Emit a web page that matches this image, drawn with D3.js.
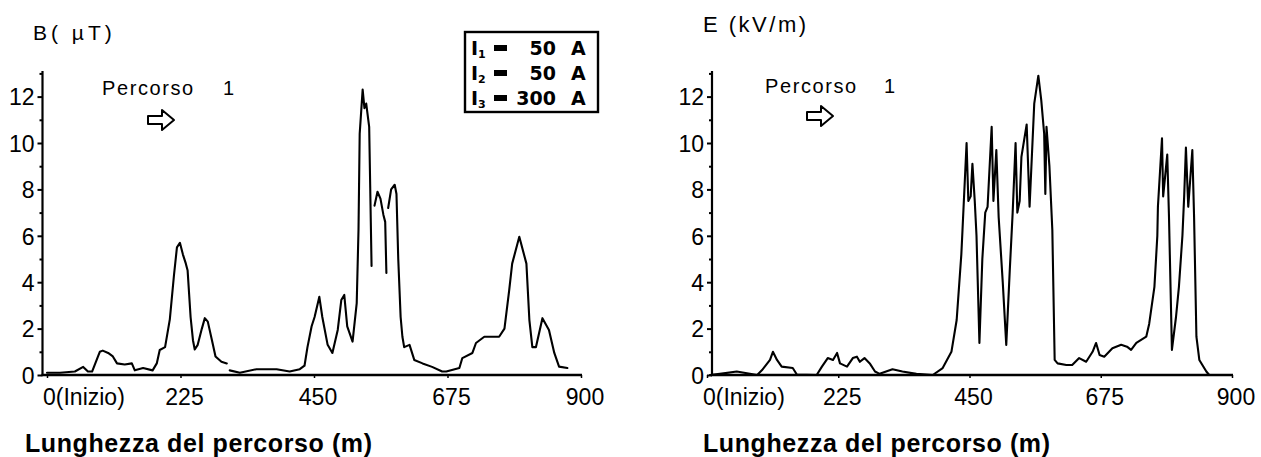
<!DOCTYPE html>
<html>
<head>
<meta charset="utf-8">
<script src="https://cdn.jsdelivr.net/npm/d3@7/dist/d3.min.js"></script>
<style>
  html, body { margin: 0; padding: 0; background: #fff; }
  svg { display: block; }
  text { fill: #000; }
</style>
</head>
<body>
<svg id="chart" width="1261" height="457"></svg>
<script>
// ---------------- DATA ----------------
// Panel 1: magnetic field B (µT) along path 1
const bDistance = [0, 22, 47, 61, 69, 76, 86, 89, 94, 103, 111, 118, 131, 143, 148, 162, 178, 185, 190, 199,
  207, 214, 219, 224, 229, 234, 237, 242, 246, 249, 254, 261, 266, 271, 278, 284, 294, 303, 305, 308,
  325, 353, 387, 409, 426, 434, 439, 446, 451, 459, 464, 473, 481, 490, 496, 501, 506, 515, 522, 525,
  527, 532, 535, 538, 543, 547, 549, 552, 557, 562, 567, 570, 572, 573, 575, 580, 586, 589, 592, 596,
  599, 602, 611, 619, 633, 649, 666, 673, 695, 700, 717, 723, 737, 762, 771, 779, 784, 796, 808, 813,
  818, 824, 835, 846, 855, 863, 877];
const bValues = [0.1, 0.1, 0.15, 0.35, 0.15, 0.15, 0.8, 1.0, 1.05, 0.95, 0.8, 0.5, 0.45, 0.5, 0.2, 0.3, 0.2, 0.5, 1.08, 1.2,
  2.4, 4.3, 5.5, 5.7, 5.2, 4.8, 4.5, 2.5, 1.5, 1.1, 1.3, 2.0, 2.45, 2.3, 1.5, 0.8, 0.57, 0.5, null, 0.2,
  0.1, 0.25, 0.25, 0.15, 0.25, 0.4, 1.2, 2.1, 2.5, 3.37, 2.5, 1.3, 0.95, 1.94, 3.23, 3.45, 2.1, 1.44, 3.1, 6.25,
  10.4, 12.3, 11.5, 11.7, 10.7, 4.7, null, 7.3, 7.9, 7.6, 6.9, 6.6, 4.4, null, 7.2, 8.0, 8.2, 7.8, 5.0, 2.5,
  1.65, 1.2, 1.3, 0.65, 0.5, 0.35, 0.15, 0.15, 0.3, 0.73, 0.95, 1.38, 1.65, 1.65, 2.0, 3.66, 4.8, 5.96, 4.8, 2.37,
  1.2, 1.2, 2.45, 1.94, 0.95, 0.36, 0.3];

// Panel 2: electric field E (kV/m) along path 1
const eDistance = [5, 22, 51, 86, 94, 108, 113, 120, 128, 147, 154, 188, 197, 207, 216, 223, 228, 240, 250, 257,
  262, 270, 279, 288, 296, 318, 335, 359, 387, 404, 419, 428, 436, 438, 445, 448, 452, 455, 459, 462,
  467, 472, 477, 481, 488, 491, 496, 500, 507, 513, 519, 524, 529, 532, 536, 539, 548, 553, 561, 568,
  573, 578, 580, 582, 587, 592, 596, 601, 616, 626, 638, 650, 661, 667, 673, 681, 695, 710, 720, 727,
  736, 753, 758, 767, 772, 773, 780, 782, 789, 792, 797, 804, 809, 815, 818, 821, 825, 832, 835, 839,
  844, 856, 861];
const eValues = [0, 0.05, 0.15, 0, 0.2, 0.65, 1.0, 0.65, 0.36, 0.3, 0.02, 0, 0.36, 0.73, 0.65, 0.95, 0.5, 0.36, 0.73, 0.79,
  0.57, 0.73, 0.5, 0.15, 0.05, 0.25, 0.15, 0.05, 0, 0.3, 1.0, 2.37, 5.2, 6.25, 10.0, 7.5, 7.7, 9.1, 7.5, 6.0,
  1.38, 5.0, 7.0, 7.25, 10.7, 7.5, 9.7, 6.8, 4.0, 1.3, 4.5, 7.0, 10.0, 7.0, 7.5, 9.4, 10.8, 7.25, 11.7, 12.9,
  11.85, 10.4, 7.8, 10.7, 9.0, 6.25, 0.65, 0.5, 0.43, 0.43, 0.73, 0.57, 1.0, 1.38, 0.86, 0.79, 1.15, 1.3, 1.22, 1.08,
  1.38, 1.65, 2.2, 3.8, 6.0, 7.25, 10.2, 7.7, 9.5, 6.8, 1.08, 2.5, 3.8, 6.0, 7.7, 9.8, 7.25, 9.7, 6.8, 1.65,
  0.65, 0.15, 0];

// Axis ticks and labels
const xTicks = [0, 225, 450, 675, 900];
const xTickLabels = ["0(Inizio)", "225", "450", "675", "900"];
const yTicks = [0, 2, 4, 6, 8, 10, 12];
const yMinorTicks = [1, 3, 5, 7, 9, 11, 13];
const yUnits = ["B( \u00B5T)", "E (kV/m)"];
const xTitle = "Lunghezza del percorso (m)";
const pathLabel = "Percorso";
const pathNumber = "1";
const legendNames = ["I", "I", "I"];
const legendSubs = ["1", "2", "3"];
const legendAmps = ["50", "50", "300"];

// ---------------- DRAW ----------------
const svg = d3.select("#chart");
const plotFont = "'Liberation Sans', Arial, sans-serif";

const panels = [
  { dist: bDistance, vals: bValues, unit: yUnits[0], axisX: 42.5, xr: [47, 581], unitPos: [33, 40], unitSize: 21, unitSpacing: 4,
    titleX: 25, pathPos: [102, 95], numX: 223, arrow: [148, 120] },
  { dist: eDistance, vals: eValues, unit: yUnits[1], axisX: 712, xr: [707, 1232], unitPos: [703, 32], unitSize: 22, unitSpacing: 2.5,
    titleX: 703, pathPos: [765, 93], numX: 884, arrow: [807, 116] }
];

const y = d3.scaleLinear().domain([0, 13]).range([375, 73.4]);

panels.forEach(p => {
  const g = svg.append("g");
  const x = d3.scaleLinear().domain([0, 900]).range(p.xr);

  // y axis: major ticks with labels
  const yAxis = d3.axisLeft(y).tickValues(yTicks).tickSize(5).tickFormat(d3.format("d"));
  const ya = g.append("g").attr("transform", `translate(${p.axisX},0)`).call(yAxis);
  ya.select(".domain").remove();
  ya.selectAll(".tick line").attr("stroke", "#000").attr("stroke-width", 2);
  ya.selectAll(".tick text").attr("font-family", plotFont).attr("font-size", 23)
    .attr("x", -8).attr("dy", "0.36em").attr("fill", "#000");
  // minor ticks
  const yMinor = d3.axisLeft(y).tickValues(yMinorTicks).tickSize(3).tickFormat("");
  const ym = g.append("g").attr("transform", `translate(${p.axisX},0)`).call(yMinor);
  ym.select(".domain").remove();
  ym.selectAll(".tick line").attr("stroke", "#000").attr("stroke-width", 2);
  // y axis line
  g.append("line").attr("x1", p.axisX).attr("x2", p.axisX).attr("y1", y(0) + 1).attr("y2", y(13.1))
    .attr("stroke", "#000").attr("stroke-width", 2.2);

  // x axis
  const xAxis = d3.axisBottom(x).tickValues(xTicks).tickSize(3).tickFormat("");
  const xa = g.append("g").attr("transform", `translate(0,${y(0)})`).call(xAxis);
  xa.select(".domain").remove();
  xa.selectAll(".tick line").attr("stroke", "#000").attr("stroke-width", 1.5);
  g.append("line").attr("x1", p.axisX - 1).attr("x2", x(900) + 1).attr("y1", y(0)).attr("y2", y(0))
    .attr("stroke", "#000").attr("stroke-width", 2.4);
  // x tick labels
  g.selectAll("text.xl").data(xTicks).enter().append("text").attr("class", "xl")
    .attr("x", (d, i) => i === 0 ? x(d) - 4 : x(d) + 4)
    .attr("y", 405)
    .attr("text-anchor", (d, i) => i === 0 ? "start" : "middle")
    .attr("font-family", plotFont).attr("font-size", 23)
    .text((d, i) => xTickLabels[i]);

  // data line
  const pts = p.dist.map((d, i) => ({ d, v: p.vals[i] }));
  const line = d3.line().defined(d => d.v !== null).x(d => x(d.d)).y(d => y(d.v));
  g.append("path").datum(pts).attr("d", line).attr("fill", "none").attr("stroke", "#000")
    .attr("stroke-width", 2.1).attr("stroke-linejoin", "round").attr("stroke-linecap", "round");

  // unit label
  g.append("text").attr("x", p.unitPos[0]).attr("y", p.unitPos[1])
    .attr("font-family", plotFont).attr("font-size", p.unitSize).attr("letter-spacing", p.unitSpacing)
    .text(p.unit);

  // path label + arrow
  g.append("text").attr("x", p.pathPos[0]).attr("y", p.pathPos[1])
    .attr("font-family", plotFont).attr("font-size", 20).attr("letter-spacing", 1.6).text(pathLabel);
  g.append("text").attr("x", p.numX).attr("y", p.pathPos[1])
    .attr("font-family", plotFont).attr("font-size", 20).text(pathNumber);
  const [ax, ay] = p.arrow;
  const arrowPath = d3.path();
  arrowPath.moveTo(ax, ay - 4); arrowPath.lineTo(ax + 14, ay - 4); arrowPath.lineTo(ax + 14, ay - 10);
  arrowPath.lineTo(ax + 26, ay); arrowPath.lineTo(ax + 14, ay + 10); arrowPath.lineTo(ax + 14, ay + 4);
  arrowPath.lineTo(ax, ay + 4); arrowPath.closePath();
  g.append("path").attr("d", arrowPath.toString()).attr("fill", "#fff").attr("stroke", "#000")
    .attr("stroke-width", 2).attr("stroke-linejoin", "round");

  // x title
  g.append("text").attr("x", p.titleX).attr("y", 452)
    .attr("font-family", plotFont).attr("font-size", 25).attr("font-weight", "bold").attr("letter-spacing", 0.6)
    .text(xTitle);
});

// legend box (first panel)
const lg = svg.append("g");
lg.append("rect").attr("x", 465).attr("y", 32).attr("width", 133).attr("height", 80)
  .attr("fill", "none").attr("stroke", "#000").attr("stroke-width", 2.4);
const legFont = "'DejaVu Sans', sans-serif";
legendAmps.forEach((a, i) => {
  const by = 55 + i * 25;
  const t = lg.append("text").attr("x", 471).attr("y", by).attr("font-family", legFont)
    .attr("font-size", 19).attr("font-weight", "bold");
  t.append("tspan").text(legendNames[i]);
  t.append("tspan").attr("font-size", 11).attr("dy", 3).text(legendSubs[i]);
  lg.append("rect").attr("x", 494).attr("y", by - 10).attr("width", 13).attr("height", 6).attr("fill", "#000");
  lg.append("text").attr("x", 556).attr("y", by).attr("text-anchor", "end").attr("font-family", legFont)
    .attr("font-size", 19).attr("font-weight", "bold").text(a);
  lg.append("text").attr("x", 571).attr("y", by).attr("font-family", legFont)
    .attr("font-size", 19).attr("font-weight", "bold").text("A");
});
</script>
</body>
</html>
